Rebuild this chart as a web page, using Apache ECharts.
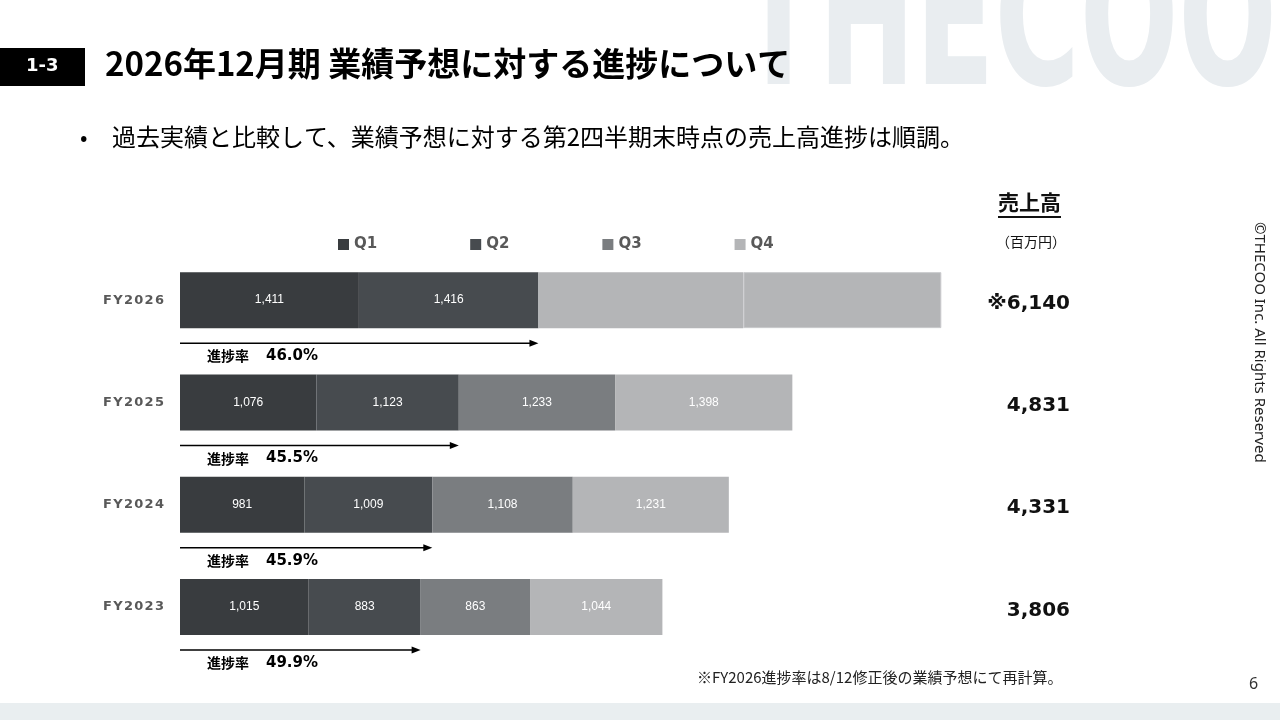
<!DOCTYPE html>
<html>
<head>
<meta charset="utf-8">
<script src="https://cdn.jsdelivr.net/npm/echarts@6/dist/echarts.min.js"></script>
<style>
html,body{margin:0;padding:0;background:#fff;}
#chart{width:1280px;height:720px;}
</style>
</head>
<body>
<div id="chart"></div>
<script>
// 決算期
var years = ['FY2026', 'FY2025', 'FY2024', 'FY2023'];
// 四半期売上高（百万円）　FY2026のQ3/Q4は予想の残り（ラベルなし）
var q1 = [1411, 1076, 981, 1015];
var q2 = [1416, 1123, 1009, 883];
var q3 = [1617, 1233, 1108, 863];
var q4 = [1561, 1398, 1231, 1044];
// 通期売上高
var totals = ['※6,140', '4,831', '4,331', '3,806'];
// 進捗率
var progress = ['46.0%', '45.5%', '45.9%', '49.9%'];

var colors = ['#393c3f', '#474b4f', '#7a7d80', '#b4b5b7'];
var jp = '"Noto Sans CJK JP", sans-serif';

function makeData(arr, qi) {
    return arr.map(function (v, i) {
        if (i === 0 && qi >= 2) {
            // 予想部分
            return {value: v, itemStyle: {color: '#b4b5b7', borderColor: '#c9cacc', borderWidth: qi == 3 ? 1 : 0}, label: {show: false}};
        }
        return v;
    });
}

function barSeries(name, arr, qi) {
    return {
        name: name,
        type: 'bar',
        stack: 'total',
        barWidth: 56,
        data: makeData(arr, qi),
        itemStyle: {color: colors[qi]},
        label: {
            show: true,
            position: 'inside',
            color: '#fff',
            fontSize: 12,
            fontFamily: '"Liberation Sans Narrow", "Liberation Sans", sans-serif',
            formatter: function (p) {
                return p.value.toLocaleString('en-US');
            }
        }
    };
}

var option = {
    backgroundColor: '#fff',
    animation: false,
    legend: {
        left: 333,
        top: 232,
        itemWidth: 11,
        itemHeight: 11,
        itemGap: 93,
        icon: 'rect',
        textStyle: {color: '#595959', fontSize: 15, fontWeight: 'bold', fontFamily: '"DejaVu Sans", sans-serif'},
        data: ['Q1', 'Q2', 'Q3', 'Q4']
    },
    grid: {left: 180, top: 249, width: 890, height: 409},
    xAxis: {type: 'value', min: 0, max: 7020, show: false},
    yAxis: [
        {
            type: 'category',
            inverse: true,
            data: years,
            axisLine: {show: false},
            axisTick: {show: false},
            axisLabel: {
                margin: 16,
                color: '#595959',
                fontSize: 13,
                fontWeight: 'bold',
                fontFamily: '"DejaVu Sans", sans-serif',
                formatter: function (v) { return v.split('').join('\u200A'); }
            }
        },
        {
            type: 'category',
            inverse: true,
            position: 'right',
            data: totals,
            axisLine: {show: false},
            axisTick: {show: false},
            axisLabel: {
                align: 'right',
                margin: 0,
                formatter: function (v) { return '{t|' + v + '}'; },
                rich: {
                    t: {
                        color: '#111',
                        fontSize: 20,
                        fontWeight: 'bold',
                        fontFamily: '"DejaVu Sans", "Noto Sans CJK JP", sans-serif',
                        padding: [7, 0, 0, 0]
                    }
                }
            }
        }
    ],
    series: [
        barSeries('Q1', q1, 0),
        barSeries('Q2', q2, 1),
        barSeries('Q3', q3, 2),
        barSeries('Q4', q4, 3),
        {
            // 進捗の矢印とラベル
            type: 'custom',
            encode: {x: 1, y: 0},
            data: years.map(function (y, i) { return [i, q1[i] + q2[i]]; }),
            renderItem: function (params, api) {
                var s = api.coord([0, api.value(0)]);
                var e = api.coord([api.value(1), api.value(0)]);
                var y = s[1] + 43;
                return {
                    type: 'group',
                    children: [
                        {type: 'line', shape: {x1: s[0], y1: y, x2: e[0] - 6, y2: y}, style: {stroke: '#000', lineWidth: 1.5}},
                        {type: 'polygon', shape: {points: [[e[0] - 9, y - 3.5], [e[0], y], [e[0] - 9, y + 3.5]]}, style: {fill: '#000'}},
                        {
                            type: 'text', x: s[0] + 27, y: y + 13,
                            style: {
                                text: '{a|進捗率}{b|' + progress[params.dataIndex] + '}',
                                verticalAlign: 'middle',
                                rich: {
                                    a: {fontSize: 14, fontWeight: 'bold', fill: '#000', fontFamily: jp, width: 59, verticalAlign: 'middle'},
                                    b: {fontSize: 15, fontWeight: 'bold', fill: '#000', fontFamily: '"DejaVu Sans", sans-serif', verticalAlign: 'middle'}
                                }
                            }
                        }
                    ]
                };
            },
            z: 5
        }
    ],
    graphic: [
        // 背景ロゴ
        {type: 'text', x: 1277, y: 33, scaleX: 0.86, scaleY: 1.3, z: -10, style: {text: 'THECOO', align: 'right', verticalAlign: 'middle', fontSize: 150, fontWeight: 'bold', fontFamily: '"DejaVu Sans Condensed", sans-serif', fill: '#e9edf0'}},
        {type: 'rect', left: 0, top: 48, shape: {width: 85, height: 38}, style: {fill: '#000'}},
        {type: 'text', left: 26, top: 57, style: {text: '1-3', fontSize: 18, fontWeight: 'bold', fill: '#fff', fontFamily: '"DejaVu Sans", sans-serif'}},
        {type: 'text', left: 105, top: 47, style: {text: '2026年12月期 業績予想に対する進捗について', fontSize: 33, fontWeight: 'bold', fill: '#000', fontFamily: jp}},
        {type: 'text', left: 80, top: 126, style: {text: '•', fontSize: 22, fill: '#000', fontFamily: jp}},
        {type: 'text', left: 112, top: 125, style: {text: '過去実績と比較して、業績予想に対する第2四半期末時点の売上高進捗は順調。', fontSize: 24, fill: '#000', fontFamily: jp}},
        {type: 'text', left: 998, top: 192, style: {text: '売上高', fontSize: 21, fontWeight: 'bold', fill: '#111', fontFamily: jp}},
        {type: 'rect', left: 998, top: 216, shape: {width: 63, height: 2}, style: {fill: '#111'}},
        {type: 'text', left: 996, top: 235, style: {text: '（百万円）', fontSize: 14, fill: '#111', fontFamily: jp}},
        {type: 'text', left: 1252, top: 222, rotation: -Math.PI / 2, originX: 0, originY: 0, style: {text: '©THECOO Inc. All Rights Reserved', fontSize: 15, fill: '#222', fontFamily: '"Noto Sans", sans-serif'}},
        {type: 'text', left: 697, top: 670, style: {text: '※FY2026進捗率は8/12修正後の業績予想にて再計算。', fontSize: 15, fill: '#222', fontFamily: jp}},
        {type: 'text', left: 1249, top: 676, style: {text: '6', fontSize: 16, fill: '#333', fontFamily: '"Noto Sans", sans-serif'}},
        {type: 'rect', left: 0, top: 703, shape: {width: 1280, height: 17}, style: {fill: '#e9eef0'}}
    ]
};

var myChart = echarts.init(document.getElementById('chart'));
myChart.setOption(option);
</script>
</body>
</html>
